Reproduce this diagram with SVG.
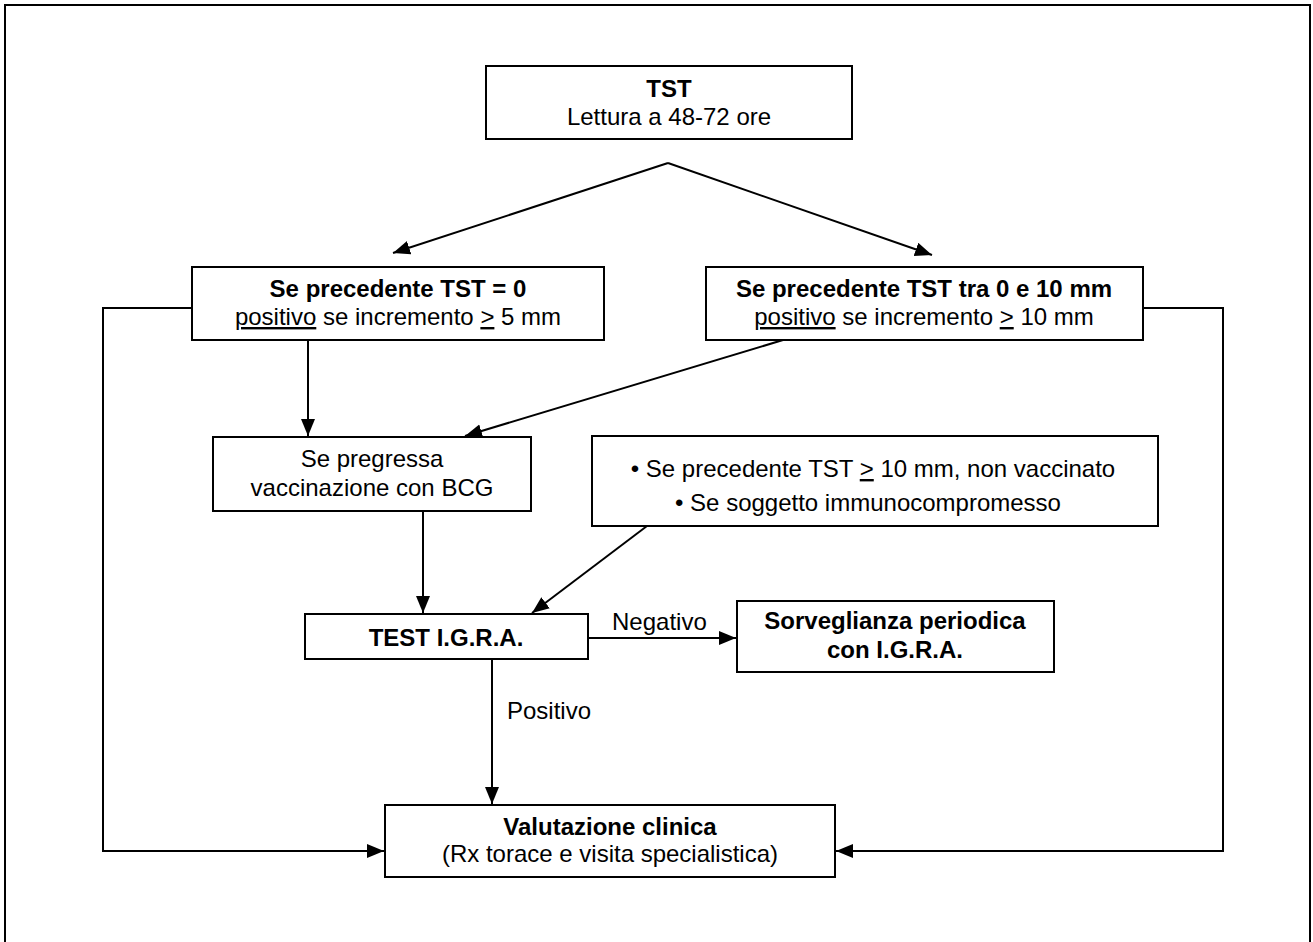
<svg xmlns="http://www.w3.org/2000/svg" width="1313" height="942" viewBox="0 0 1313 942">
<style>
.box{fill:#fff;stroke:#000;stroke-width:2}
.t{font-family:"Liberation Sans",Arial,sans-serif;font-size:24px;fill:#000;text-anchor:middle}
.b{font-weight:bold}
.l{text-anchor:start}
.u{text-decoration:underline}
.c{fill:none;stroke:#000;stroke-width:2}
</style>
<defs>
<marker id="ah" markerUnits="userSpaceOnUse" markerWidth="18" markerHeight="16" refX="17" refY="7" orient="auto">
<path d="M0,0 L17,7 L0,14 Z" fill="#000"/>
</marker>
</defs>
<rect width="1313" height="942" fill="#fff"/>
<path d="M5,942 V5 H1310 V942" fill="none" stroke="#000" stroke-width="2"/>

<g id="connectors">
<line class="c" x1="668" y1="163" x2="393" y2="253" marker-end="url(#ah)"/>
<line class="c" x1="668" y1="163" x2="932" y2="255" marker-end="url(#ah)"/>
<line class="c" x1="308" y1="340" x2="308" y2="436" marker-end="url(#ah)"/>
<line class="c" x1="783" y1="340" x2="465" y2="436" marker-end="url(#ah)"/>
<line class="c" x1="423" y1="511" x2="423" y2="613" marker-end="url(#ah)"/>
<line class="c" x1="647" y1="526" x2="532" y2="613" marker-end="url(#ah)"/>
<line class="c" x1="588" y1="638" x2="736" y2="638" marker-end="url(#ah)"/>
<line class="c" x1="492" y1="659" x2="492" y2="804" marker-end="url(#ah)"/>
<path class="c" d="M192,308 H103 V851 H384" marker-end="url(#ah)"/>
<path class="c" d="M1143,308 H1223 V851 H836" marker-end="url(#ah)"/>
<text class="t l" x="612" y="630">Negativo</text>
<text class="t l" x="507" y="719">Positivo</text>
</g>

<g id="tst">
<rect class="box" x="486" y="66" width="366" height="73"/>
<text class="t b" x="669" y="97">TST</text>
<text class="t" x="669" y="125">Lettura a 48-72 ore</text>
</g>

<g id="prec0">
<rect class="box" x="192" y="267" width="412" height="73"/>
<text class="t b" x="398" y="297">Se precedente TST = 0</text>
<text class="t" x="398" y="325"><tspan class="u">positivo</tspan> se incremento <tspan class="u">&gt;</tspan> 5 mm</text>
</g>

<g id="prec10">
<rect class="box" x="706" y="267" width="437" height="73"/>
<text class="t b" x="924" y="297">Se precedente TST tra 0 e 10 mm</text>
<text class="t" x="924" y="325"><tspan class="u">positivo</tspan> se incremento <tspan class="u">&gt;</tspan> 10 mm</text>
</g>

<g id="bcg">
<rect class="box" x="213" y="437" width="318" height="74"/>
<text class="t" x="372" y="467">Se pregressa</text>
<text class="t" x="372" y="496">vaccinazione con BCG</text>
</g>

<g id="bullets">
<rect class="box" x="592" y="436" width="566" height="90"/>
<text class="t" x="873" y="477">• Se precedente TST <tspan class="u">&gt;</tspan> 10 mm, non vaccinato</text>
<text class="t" x="868" y="511">• Se soggetto immunocompromesso</text>
</g>

<g id="igra">
<rect class="box" x="305" y="614" width="283" height="45"/>
<text class="t b" x="446" y="646">TEST I.G.R.A.</text>
</g>

<g id="sorveglianza">
<rect class="box" x="737" y="601" width="317" height="71"/>
<text class="t b" x="895" y="629">Sorveglianza periodica</text>
<text class="t b" x="895" y="658">con I.G.R.A.</text>
</g>

<g id="valutazione">
<rect class="box" x="385" y="805" width="450" height="72"/>
<text class="t b" x="610" y="835">Valutazione clinica</text>
<text class="t" x="610" y="862">(Rx torace e visita specialistica)</text>
</g>
</svg>
